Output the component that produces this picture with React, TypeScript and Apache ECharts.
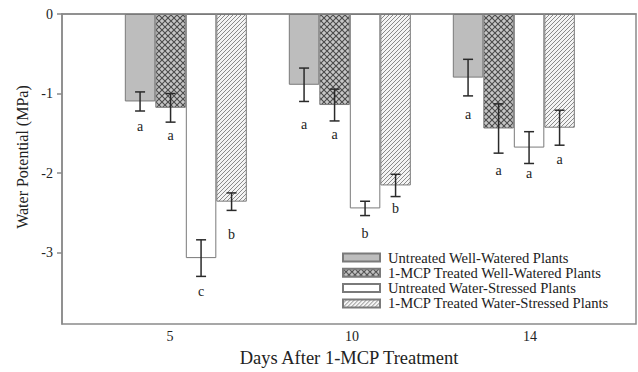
import React, { useEffect, useRef } from "react";
import * as echarts from "echarts";

const days = ["5", "10", "14"];
const groupPos = [1, 2, 3];
const seriesNames = [
  "Untreated Well-Watered Plants",
  "1-MCP Treated Well-Watered Plants",
  "Untreated Water-Stressed Plants",
  "1-MCP Treated Water-Stressed Plants",
];
const untreatedWW = [-1.1, -0.89, -0.8];
const mcpWW = [-1.18, -1.145, -1.44];
const untreatedWS = [-3.07, -2.445, -1.68];
const mcpWS = [-2.36, -2.156, -1.43];
const errUntreatedWW = [0.12, 0.21, 0.23];
const errMcpWW = [0.18, 0.2, 0.31];
const errUntreatedWS = [0.23, 0.09, 0.2];
const errMcpWS = [0.11, 0.14, 0.22];
const lettersUntreatedWW = ["a", "a", "a"];
const lettersMcpWW = ["a", "a", "a"];
const lettersUntreatedWS = ["c", "b", "a"];
const lettersMcpWS = ["b", "b", "a"];
const letterAtUntreatedWW = [-1.415, -1.394, -1.27];
const letterAtMcpWW = [-1.525, -1.51, -1.97];
const letterAtUntreatedWS = [-3.49, -2.76, -2.01];
const letterAtMcpWS = [-2.77, -2.45, -1.83];
const yTicks = [0, -1, -2, -3];
const dayLabelAt = [0.904, 2.013, 3.098];

const means = [untreatedWW, mcpWW, untreatedWS, mcpWS];
const errs = [errUntreatedWW, errMcpWW, errUntreatedWS, errMcpWS];
const letters = [lettersUntreatedWW, lettersMcpWW, lettersUntreatedWS, lettersMcpWS];
const letterAt = [letterAtUntreatedWW, letterAtMcpWW, letterAtUntreatedWS, letterAtMcpWS];

const FONT = "'Liberation Serif', 'Times New Roman', serif";
const BAR_W = 30.5;

function crossPattern(): HTMLCanvasElement {
  const c = document.createElement("canvas");
  c.width = 6;
  c.height = 6;
  const g = c.getContext("2d")!;
  g.fillStyle = "#c6c6c6";
  g.fillRect(0, 0, 6, 6);
  g.strokeStyle = "#4a4a4a";
  g.lineWidth = 1.1;
  g.beginPath();
  g.moveTo(0, 0);
  g.lineTo(6, 6);
  g.moveTo(6, 0);
  g.lineTo(0, 6);
  g.stroke();
  return c;
}

function hatchPattern(): HTMLCanvasElement {
  const c = document.createElement("canvas");
  c.width = 4;
  c.height = 4;
  const g = c.getContext("2d")!;
  g.fillStyle = "#f4f4f4";
  g.fillRect(0, 0, 4, 4);
  g.strokeStyle = "#8a8a8a";
  g.lineWidth = 1;
  g.beginPath();
  g.moveTo(-1, 5);
  g.lineTo(5, -1);
  g.moveTo(-1, 1);
  g.lineTo(1, -1);
  g.moveTo(3, 5);
  g.lineTo(5, 3);
  g.stroke();
  return c;
}

export default function App() {
  const ref = useRef<HTMLDivElement>(null);
  useEffect(() => {
    if (!ref.current) return;
    const chart = echarts.init(ref.current, null, { renderer: "svg" });
    const fills: any[] = [
      "#bdbdbd",
      { image: crossPattern(), repeat: "repeat" },
      "#ffffff",
      { image: hatchPattern(), repeat: "repeat" },
    ];
    const barSeries = seriesNames.map((name, i) => ({
      name,
      type: "bar",
      barWidth: BAR_W,
      barGap: "0%",
      data: groupPos.map((x, j) => [x, means[i][j]]),
      itemStyle: { color: fills[i], borderColor: "#7a7a7a", borderWidth: 1 },
      z: 2,
    }));
    const errSeries = seriesNames.map((name, i) => ({
      name: name + " error",
      type: "custom",
      z: 4,
      silent: true,
      data: groupPos.map((x, j) => [x, means[i][j], errs[i][j]]),
      renderItem: (params: any, api: any) => {
        const j = params.dataIndex;
        const x = api.value(0);
        const m = api.value(1);
        const e = api.value(2);
        const off = (i - 1.5) * BAR_W;
        const top = api.coord([x, m + e]);
        const bot = api.coord([x, m - e]);
        const lp = api.coord([x, letterAt[i][j]]);
        const cx = top[0] + off;
        const ls = { stroke: "#2a2a2a", lineWidth: 1.5 };
        return {
          type: "group",
          children: [
            { type: "line", shape: { x1: cx, y1: top[1], x2: cx, y2: bot[1] }, style: ls },
            { type: "line", shape: { x1: cx - 5, y1: top[1], x2: cx + 5, y2: top[1] }, style: ls },
            { type: "line", shape: { x1: cx - 5, y1: bot[1], x2: cx + 5, y2: bot[1] }, style: ls },
            {
              type: "text",
              x: cx,
              y: lp[1],
              style: {
                text: letters[i][j],
                fill: "#222",
                font: `14px ${FONT}`,
                align: "center",
                verticalAlign: "middle",
              },
            },
          ],
        };
      },
    }));
    chart.setOption({
      animation: false,
      backgroundColor: "#ffffff",
      textStyle: { fontFamily: FONT },
      grid: {
        left: 62,
        top: 14,
        right: 2,
        bottom: 42,
        show: true,
        borderColor: "#8a8a8a",
        borderWidth: 1.5,
        backgroundColor: "transparent",
      },
      legend: {
        orient: "vertical",
        left: 342,
        top: 250,
        padding: 0,
        icon: "rect",
        itemWidth: 37,
        itemHeight: 8,
        itemGap: 0.3,
        data: seriesNames,
        textStyle: {
          fontFamily: FONT,
          fontSize: 14.6,
          color: "#222",
          lineHeight: 15,
          padding: [0, 0, 0, 3],
        },
        selectedMode: false,
      },
      xAxis: {
        type: "value",
        min: 0.245,
        max: 3.745,
        name: "Days After 1-MCP Treatment",
        nameLocation: "middle",
        nameGap: 23,
        nameTextStyle: { fontFamily: FONT, fontSize: 18.5, color: "#222" },
        axisLine: { show: true, lineStyle: { color: "#8a8a8a", width: 1.5 } },
        axisTick: { show: false },
        splitLine: { show: false },
        axisLabel: {
          customValues: dayLabelAt,
          formatter: (v: number) => days[Math.round(v) - 1] ?? "",
          fontFamily: FONT,
          fontSize: 14,
          color: "#222",
          margin: 5,
        },
      },
      yAxis: {
        type: "value",
        min: -3.9,
        max: 0,
        name: "Water Potential (MPa)",
        nameLocation: "middle",
        nameGap: 27,
        nameTextStyle: { fontFamily: FONT, fontSize: 16, color: "#222", padding: [0, 0, 0, 24] },
        axisLine: { show: true, lineStyle: { color: "#8a8a8a", width: 1.5 } },
        axisTick: { show: true, inside: false, length: 5, customValues: yTicks, lineStyle: { color: "#8a8a8a", width: 1.5 } },
        splitLine: { show: false },
        axisLabel: {
          customValues: yTicks,
          formatter: (v: number) => String(v),
          fontFamily: FONT,
          fontSize: 14,
          color: "#222",
          margin: 9,
        },
      },
      series: [...barSeries, ...errSeries],
    });
    return () => chart.dispose();
  }, []);
  return (
    <div
      ref={ref}
      style={{ position: "fixed", left: 0, top: 0, width: 638, height: 372, background: "#fff" }}
    />
  );
}
